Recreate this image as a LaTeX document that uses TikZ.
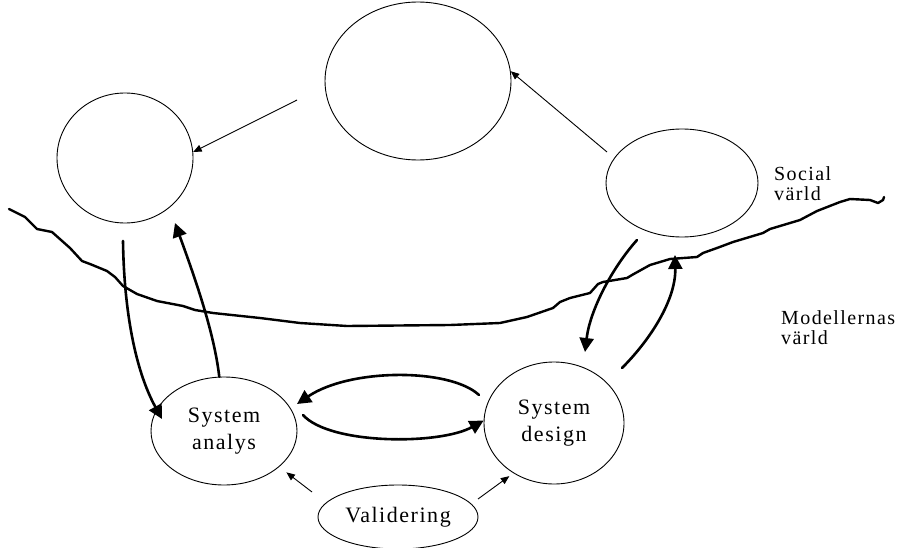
\documentclass[tikz,border=0pt]{standalone}
\usepackage{fontspec}
\setmainfont{Liberation Serif}
\newfontfamily\boxfont{Liberation Serif}[LetterSpace=7]
\newfontfamily\sidefont{Liberation Serif}[LetterSpace=7]
\usetikzlibrary{shapes.geometric,arrows.meta}

\tikzset{
  oval/.style={ellipse, draw, line width=0.9pt, inner sep=0pt},
  label text/.style={font=\boxfont\fontsize{22}{27}\selectfont, align=center},
  side text/.style={font=\sidefont\fontsize{20}{20}\selectfont, align=left, anchor=north west, inner sep=0pt},
  thin arrow/.style={line width=0.9pt, -{Triangle[length=8.5pt,width=7pt]}},
  thick arrow/.style={line width=2.6pt, line cap=round, -{Triangle[length=14pt,width=14pt]}},
  border line/.style={line width=2.4pt, line join=round, line cap=round}
}

\begin{document}
\begin{tikzpicture}[x=1pt,y=1pt]
  \useasboundingbox (0,0) rectangle (901,-548);

  % the five ellipses
  \node[oval, minimum width=186pt, minimum height=158pt] (upper) at (418,-81) {};
  \node[oval, minimum width=136pt, minimum height=130pt] (left) at (125,-158) {};
  \node[oval, minimum width=152pt, minimum height=108pt] (right) at (682,-183) {};
  \node[oval, minimum width=146pt, minimum height=108pt, label text] (analys) at (224,-431) {System\\analys};
  \node[oval, minimum width=140pt, minimum height=122pt, label text] (design) at (554,-423) {System\\design};
  \node[oval, minimum width=160pt, minimum height=64pt, label text] (valid) at (398,-517) {Validering};

  % world labels
  \node[side text] (social) at (774,-166) {Social\\värld};
  \node[side text] (modell) at (781,-310) {Modellernas\\värld};

  % free ends of the connectors
  \coordinate (t1) at (297,-100);
  \coordinate (t2) at (607,-152);
  \coordinate (v1) at (312,-492);
  \coordinate (v2) at (478,-499);
  \coordinate (a1s) at (123,-241);
  \coordinate (a1e) at (162,-419);
  \coordinate (a2e) at (175,-223);
  \coordinate (b1s) at (479,-395);
  \coordinate (b1e) at (297,-404);
  \coordinate (b2s) at (303,-415);
  \coordinate (c1s) at (637,-240);
  \coordinate (c1e) at (585,-352);
  \coordinate (c2s) at (622,-368);
  \coordinate (c2e) at (675,-255);

  % thin arrows in the social world and from the validation
  \draw[thin arrow] (t1) -- (left.5);
  \draw[thin arrow] (t2) -- (upper.6);
  \draw[thin arrow, shorten >=9pt] (v1) -- (analys.-33);
  \draw[thin arrow, shorten >=5pt] (v2) -- (design.-129);

  % boundary between the two worlds
  \draw[border line] plot coordinates {
    (9,-209) (25,-217) (37,-229) (52,-232) (70,-248) (82,-261) (90,-264)
    (107,-271) (115,-277) (123,-286) (137,-294) (157,-301) (183,-306)
    (195,-310) (213,-313) (260,-318) (300,-323) (347,-326) (450,-325)
    (500,-323) (527,-317) (553,-308) (560,-302) (570,-298) (590,-293)
    (598,-284) (603,-282) (627,-278) (632,-275) (650,-265) (670,-259)
    (697,-257) (703,-253) (717,-248) (733,-242) (763,-233) (770,-229)
    (800,-220) (817,-211) (840,-202) (850,-199) (870,-200) (878,-203)
    (883,-200) (884,-197)};

  % thick arrows crossing the boundary and between the models
  \draw[thick arrow] (a1s) .. controls (124,-310) and (135,-370) .. (a1e);
  \draw[thick arrow] (analys.95) .. controls (214,-330) and (192,-270) .. (a2e);
  \draw[thick arrow] (b1s) .. controls (450,-368) and (350,-368) .. (b1e);
  \draw[thick arrow] (b2s) .. controls (330,-445) and (440,-445) .. (design.178);
  \draw[thick arrow] (c1s) .. controls (612,-268) and (590,-310) .. (c1e);
  \draw[thick arrow] (c2s) .. controls (650,-340) and (676,-300) .. (c2e);
\end{tikzpicture}
\end{document}
